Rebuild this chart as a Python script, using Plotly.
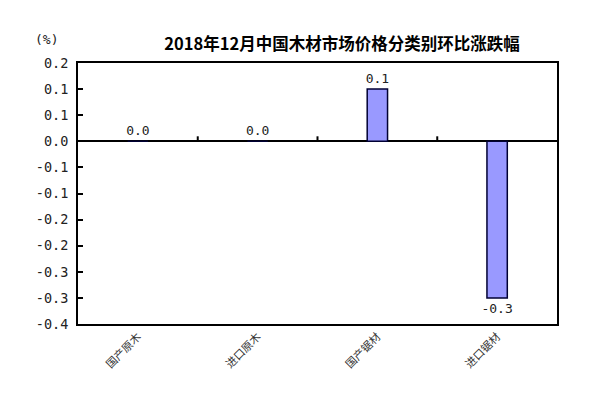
import plotly.graph_objects as go

categories = ["国产原木", "进口原木", "国产锯材", "进口锯材"]
values = [0.0, 0.0, 0.1, -0.3]
value_labels = ["0.0", "0.0", "0.1", "-0.3"]
tick_vals = [0.15, 0.10, 0.05, 0.0, -0.05, -0.10, -0.15, -0.20, -0.25, -0.30, -0.35]
tick_text = ["0.2", "0.1", "0.1", "0.0", "-0.1", "-0.1", "-0.2", "-0.2", "-0.3", "-0.3", "-0.4"]
title_text = "2018年12月中国木材市场价格分类别环比涨跌幅"
unit_text = "(%)"

num_font = "DejaVu Sans Mono, monospace"
cjk_font = "Noto Sans CJK SC, sans-serif"

# page body has an 8px default margin; size the figure to fit the 600x407 window
W, H = 592, 399
ML, MR, MT, MB = 70, 43, 55, 83

fig = go.Figure()
fig.add_trace(go.Bar(
    x=categories, y=values,
    marker=dict(color="#9999FF", line=dict(color="#000033", width=1.5)),
    width=0.17,
    text=value_labels, textposition="outside", cliponaxis=False,
    constraintext="none",
    textfont=dict(family=num_font, size=13, color="#222222"),
))

# small category-boundary ticks on the zero line
for i in range(len(categories) - 1):
    fig.add_shape(type="line", xref="x", yref="y",
                  x0=i + 0.5, x1=i + 0.5,
                  ysizemode="pixel", yanchor=0, y0=0, y1=5,
                  line=dict(color="black", width=2))

fig.update_layout(
    width=W, height=H,
    margin=dict(l=ML, r=MR, t=MT, b=MB, autoexpand=False),
    paper_bgcolor="white", plot_bgcolor="white",
    showlegend=False,
    title=dict(text="<b>" + title_text + "</b>", x=(342 - 8) / W, xanchor="center",
               xref="container", y=1 - (44 - 8) / H, yanchor="middle", yref="container",
               font=dict(family=cjk_font, size=16.5, color="black")),
    xaxis=dict(
        type="category", range=[-0.5, len(categories) - 0.5],
        showline=True, linecolor="black", linewidth=2, mirror=True,
        ticks="", showgrid=False, tickangle=-45,
        tickfont=dict(family=cjk_font, size=11, color="#333333"),
    ),
    yaxis=dict(
        range=[-0.35, 0.15], tickmode="array", tickvals=tick_vals, ticktext=tick_text,
        showline=True, linecolor="black", linewidth=2, mirror=True,
        ticks="inside", ticklen=5, tickwidth=2, tickcolor="black",
        ticklabelstandoff=5,
        showgrid=False, zeroline=True, zerolinecolor="black", zerolinewidth=2,
        tickfont=dict(family=num_font, size=13.5, color="#222222"),
    ),
)
fig.add_annotation(text=unit_text, xref="paper", yref="paper",
                   x=(46 - 78) / (W - ML - MR), y=1 + (63 - 40) / (H - MT - MB),
                   xanchor="center", yanchor="middle", showarrow=False,
                   font=dict(family=num_font, size=13, color="#222222"))

fig.write_html("out.html")
